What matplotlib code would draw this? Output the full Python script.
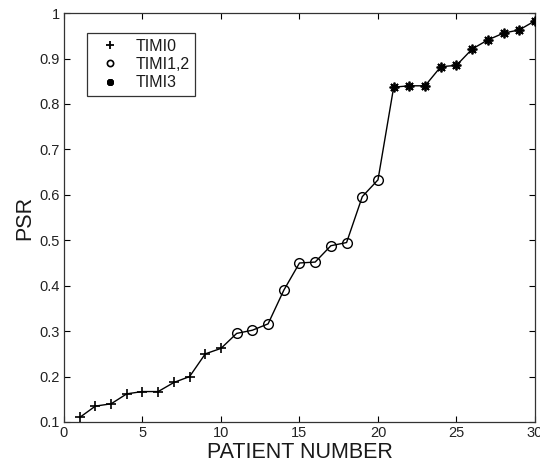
import matplotlib
matplotlib.use("Agg")
import matplotlib.pyplot as plt
from matplotlib.lines import Line2D

plt.rcParams['font.family'] = ['Liberation Sans', 'DejaVu Sans']

patient = list(range(1, 31))
psr = [0.110, 0.135, 0.140, 0.162, 0.167, 0.167, 0.187, 0.200, 0.250, 0.262,
       0.295, 0.302, 0.316, 0.390, 0.450, 0.452, 0.488, 0.495, 0.596, 0.633,
       0.837, 0.840, 0.840, 0.882, 0.885, 0.921, 0.941, 0.956, 0.963, 0.983]
group = ['TIMI0'] * 10 + ['TIMI1,2'] * 10 + ['TIMI3'] * 10
group_names = ['TIMI0', 'TIMI1,2', 'TIMI3']
group_markers = {'TIMI0': '+', 'TIMI1,2': 'o', 'TIMI3': (8, 2, 0)}

fig = plt.figure(figsize=(5.4, 4.68), dpi=100)
ax = fig.add_axes([0.1185, 0.0983, 0.8722, 0.8737])

ax.plot(patient, psr, color='black', linewidth=1.0, zorder=2)
handles = []
for g in group_names:
    xs = [p for p, gg in zip(patient, group) if gg == g]
    ys = [v for v, gg in zip(psr, group) if gg == g]
    m = group_markers[g]
    if m == 'o':
        ax.plot(xs, ys, linestyle='none', marker='o', markersize=7,
                markerfacecolor='none', markeredgecolor='black', markeredgewidth=1.0, zorder=3)
        handles.append(Line2D([], [], linestyle='none', marker='o', markersize=4.5,
                              markerfacecolor='none', markeredgecolor='black', markeredgewidth=1.2))
    elif m == '+':
        ax.plot(xs, ys, linestyle='none', marker='+', markersize=7,
                color='black', markeredgewidth=1.2, zorder=3)
        handles.append(Line2D([], [], linestyle='none', marker='+', markersize=5.5,
                              color='black', markeredgewidth=1.3))
    else:
        ax.plot(xs, ys, linestyle='none', marker=m, markersize=7,
                color='black', markeredgewidth=1.3, zorder=3)
        handles.append(Line2D([], [], linestyle='none', marker=m, markersize=5,
                              color='black', markeredgewidth=1.6))

ax.set_xlim(0, 30)
ax.set_ylim(0.1, 1.0)
ax.set_xticks([0, 5, 10, 15, 20, 25, 30])
ax.set_yticks([0.1, 0.2, 0.3, 0.4, 0.5, 0.6, 0.7, 0.8, 0.9, 1.0])
ax.set_yticklabels(['0.1', '0.2', '0.3', '0.4', '0.5', '0.6', '0.7', '0.8', '0.9', '1'])
ax.tick_params(direction='in', top=True, right=True, labelsize=10.5, length=4, width=0.8,
               pad=3, labelcolor='#222222')
for s in ax.spines.values():
    s.set_linewidth(0.9)
    s.set_color('#333333')

ax.set_xlabel('PATIENT NUMBER', fontsize=15.5, labelpad=1, color='#1a1a1a')
ax.set_ylabel('PSR', fontsize=15.5, labelpad=3, color='#1a1a1a')

leg = ax.legend(handles, group_names, loc='upper left', bbox_to_anchor=(0.0488, 0.951),
                borderaxespad=0, fontsize=11.5, frameon=True, fancybox=False, edgecolor='black',
                handletextpad=0.5, borderpad=0.35, labelspacing=0.2, handlelength=2.2)
leg.get_frame().set_linewidth(0.9)
for t in leg.get_texts():
    t.set_color('#1a1a1a')

fig.savefig('out.png', dpi=100)
